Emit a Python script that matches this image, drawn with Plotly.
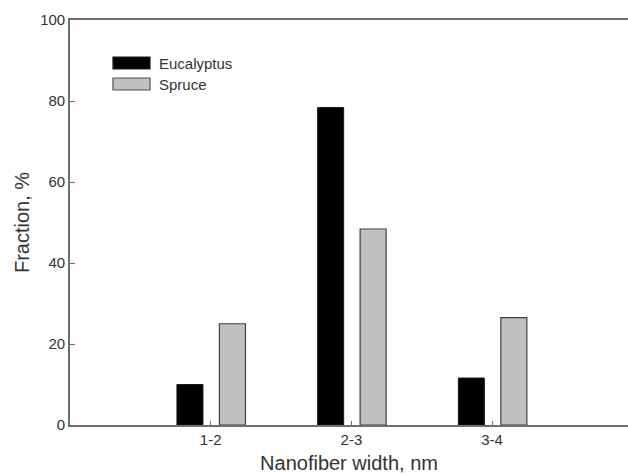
import plotly.graph_objects as go

categories = ["1-2", "2-3", "3-4"]
positions = [1, 2, 3]
eucalyptus = [10.0, 78.4, 11.6]
spruce = [25.0, 48.4, 26.5]
y_ticks = [0, 20, 40, 60, 80, 100]

FONT = "Liberation Sans, Arial, sans-serif"
AX = "#6e6e6e"
TXT = "#333333"

fig = go.Figure()
fig.add_trace(go.Bar(
    x=positions, y=eucalyptus, name="Eucalyptus",
    width=0.185, offset=-0.24,
    marker=dict(color="#000000", line=dict(color="#1a1a1a", width=1)),
    showlegend=False,
))
fig.add_trace(go.Bar(
    x=positions, y=spruce, name="Spruce",
    width=0.185, offset=0.062,
    marker=dict(color="#c0c0c0", line=dict(color="#404040", width=1.2)),
    showlegend=False,
))

# legend drawn as boxes + labels (paper coords)
legend_items = [("Eucalyptus", "#000000", "#1a1a1a"), ("Spruce", "#c0c0c0", "#505050")]
shapes = []
annotations = []
for i, (name, fill, edge) in enumerate(legend_items):
    y_top = 57 + i * 21
    y0 = 1 - (y_top - 20) / 405
    y1 = 1 - (y_top + 12 - 20) / 405
    x0 = (113 - 70) / 558
    x1 = (150 - 70) / 558
    shapes.append(dict(type="rect", xref="paper", yref="paper",
                       x0=x0, x1=x1, y0=y1, y1=y0,
                       fillcolor=fill, line=dict(color=edge, width=1.2)))
    annotations.append(dict(xref="paper", yref="paper",
                            x=(157 - 70) / 558, y=(y0 + y1) / 2,
                            text=name, showarrow=False, xanchor="left", yanchor="middle",
                            font=dict(family=FONT, size=15, color=TXT)))

fig.update_layout(
    width=628, height=475,
    margin=dict(l=70, r=0, t=20, b=50),
    paper_bgcolor="white", plot_bgcolor="white",
    barmode="overlay",
    shapes=shapes, annotations=annotations,
    font=dict(family=FONT, size=15, color=TXT),
)
fig.update_xaxes(
    range=[0, 558 / 140.7],
    automargin=False,
    tickmode="array", tickvals=positions, ticktext=categories,
    ticks="inside", ticklen=4, tickwidth=1.2, tickcolor=AX,
    showline=True, linecolor=AX, linewidth=1.6, mirror=True,
    showgrid=False, zeroline=False,
    tickfont=dict(family=FONT, size=15, color=TXT),
    title=dict(text="Nanofiber width, nm", font=dict(family=FONT, size=20, color=TXT), standoff=9),
)
fig.update_yaxes(
    range=[0, 100],
    automargin=False,
    tickmode="array", tickvals=y_ticks,
    ticks="inside", ticklen=5, tickwidth=1.2, tickcolor=AX,
    showline=True, linecolor=AX, linewidth=1.6, mirror=False,
    showgrid=False, zeroline=False,
    tickfont=dict(family=FONT, size=15, color=TXT),
    title=dict(text="Fraction, %", font=dict(family=FONT, size=20, color=TXT), standoff=5),
)

fig.write_html(
    "out.html",
    config={"displayModeBar": False},
    post_script="document.body.style.margin='0';document.body.style.overflow='hidden';",
)
